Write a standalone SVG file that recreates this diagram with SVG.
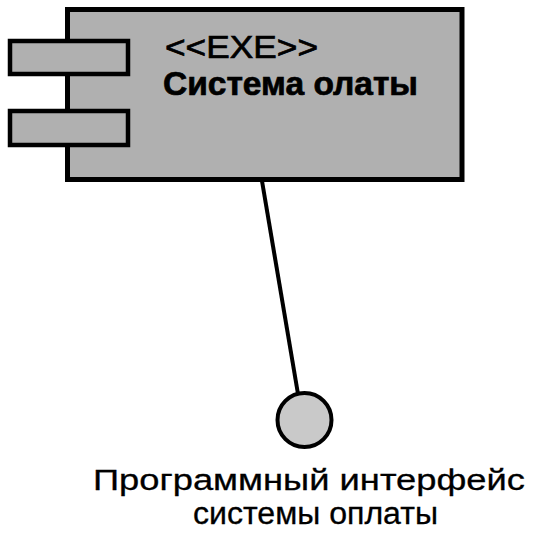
<svg xmlns="http://www.w3.org/2000/svg" width="536" height="540" viewBox="0 0 536 540">
  <style>
    .box { fill: #b0b0b0; stroke: #000; stroke-width: 5; }
    .port { fill: #b0b0b0; stroke: #000; stroke-width: 4.5; }
    .iface { fill: #c9c9c9; stroke: #000; stroke-width: 4; }
    .conn { stroke: #000; stroke-width: 4; fill: none; }
    .t { font-family: "Liberation Sans", Arial, sans-serif; fill: #000; stroke: #000; stroke-width: 0.7; }
    .lbl { stroke-width: 0.3; }
  </style>
  <rect width="536" height="540" fill="#fff"/>
  <g id="connectors">
    <line class="conn" x1="262" y1="181" x2="298" y2="394"/>
  </g>
  <g id="component">
    <rect class="box" x="67.5" y="9.5" width="394.5" height="170"/>
    <rect class="port" x="10" y="41" width="118" height="33"/>
    <rect class="port" x="10" y="111" width="118" height="34"/>
    <text class="t" x="165" y="58" font-size="32" textLength="153" lengthAdjust="spacingAndGlyphs">&lt;&lt;EXE&gt;&gt;</text>
    <text class="t" x="163" y="95" font-size="33" font-weight="bold" textLength="255" lengthAdjust="spacingAndGlyphs">Система олаты</text>
  </g>
  <g id="interface">
    <circle class="iface" cx="304.5" cy="420" r="27"/>
    <text class="t lbl" x="93" y="490" font-size="30" textLength="432" lengthAdjust="spacingAndGlyphs">Программный интерфейс</text>
    <text class="t lbl" x="193" y="524" font-size="31" textLength="245" lengthAdjust="spacingAndGlyphs">системы оплаты</text>
  </g>
</svg>
